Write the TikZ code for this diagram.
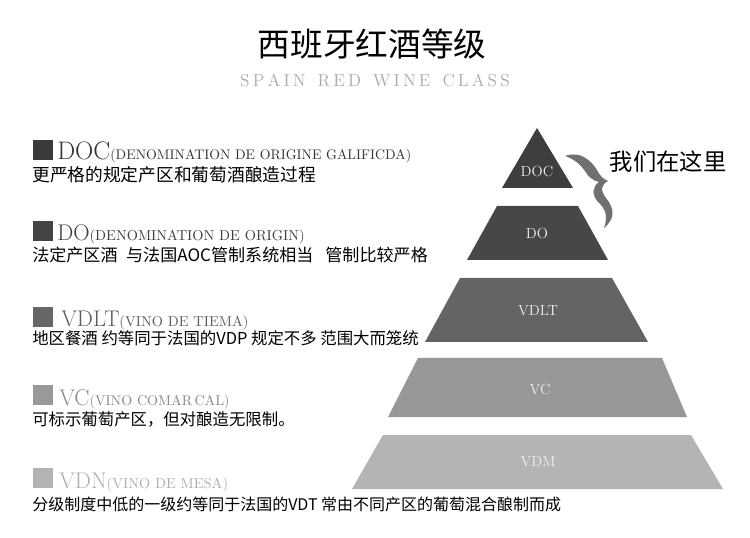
\documentclass[tikz,border=0pt]{standalone}
\usepackage{fontspec}
\newfontfamily\cjk{Noto Sans CJK SC}
\definecolor{sqa}{HTML}{3A3A3A}
\definecolor{sqb}{HTML}{444444}
\definecolor{sqc}{HTML}{666666}
\definecolor{sqd}{HTML}{999999}
\definecolor{sqe}{HTML}{B3B3B3}
\definecolor{hda}{HTML}{333333}
\definecolor{hdb}{HTML}{3F3F3F}
\definecolor{hdc}{HTML}{5C5C5C}
\definecolor{hdd}{HTML}{888888}
\definecolor{hde}{HTML}{AEAEAE}
\definecolor{pya}{HTML}{3E3E3E}
\definecolor{pyb}{HTML}{474747}
\definecolor{pyc}{HTML}{646464}
\definecolor{pyd}{HTML}{979797}
\definecolor{pye}{HTML}{B4B4B4}
\definecolor{subgray}{HTML}{A8A8A8}
\definecolor{bracegray}{HTML}{707070}
\newcommand\lk{\kern2.4pt}
\tikzset{
  sqbox/.style={rectangle, minimum size=15pt, inner sep=0pt, draw=none},
  heading/.style={anchor=base west, inner sep=0pt},
  cnline/.style={anchor=west, inner sep=0pt, font=\cjk\fontsize{12.3}{12.3}\selectfont, text=black},
  plabel/.style={inner sep=0pt, text=white!94!black, font=\fontsize{11}{11}\selectfont}
}
\begin{document}
\begin{tikzpicture}[x=0.75pt,y=-0.75pt]
\useasboundingbox (0,0) rectangle (750,538);
\fill[white] (0,0) rectangle (750,538);

% title
\node[inner sep=0pt] (title) at (372,44) {\cjk\fontsize{24.5}{24.5}\selectfont 西班牙红酒等级};
\node[inner sep=0pt, text=subgray] (subtitle) at (375,80) {\fontsize{13}{13}\selectfont S\lk P\lk A\lk I\lk N\lk\ \lk R\lk E\lk D\lk\ \lk W\lk I\lk N\lk E\lk\ \lk C\lk L\lk A\lk S\lk S};

% pyramid
\fill[pya] (537,128) -- (573,188) -- (502,188) -- cycle;
\fill[pyb] (497,206) -- (578,206) -- (608,260) -- (467,260) -- cycle;
\fill[pyc] (460,278) -- (612,278) -- (648,342) -- (425,342) -- cycle;
\fill[pyd] (418,358) -- (662,358) -- (687,417) -- (388,417) -- cycle;
\fill[pye] (383,435) -- (691,435) -- (723,489) -- (352,489) -- cycle;

\node[plabel] (pdoc) at (537,171) {DOC};
\node[plabel] (pdo) at (537,233) {DO};
\node[plabel] (pvdlt) at (538,311) {VDLT};
\node[plabel] (pvc) at (540,389) {VC};
\node[plabel] (pvdm) at (538,462) {VDM};

% brace
\fill[bracegray] (565,156) .. controls (581,150) and (592,162) .. (597,170)
  .. controls (600,176) and (603,179) .. (608,181)
  .. controls (601,185) and (600,190) .. (606,198)
  .. controls (615,209) and (615,219) .. (604,228)
  .. controls (608,217) and (606,209) .. (598,202)
  .. controls (591,194) and (593,186) .. (599,182)
  .. controls (591,180) and (588,176) .. (585,171)
  .. controls (580,164) and (574,159) .. (565,156) -- cycle;
\node[inner sep=0pt] (here) at (668,162) {\cjk\fontsize{17.5}{17.5}\selectfont 我们在这里};

% row 1
\node[sqbox, fill=sqa] (s1) at (43,150) {};
\node[heading, text=hda] (h1) at (57,160) {\fontsize{19}{19}\selectfont DOC\fontsize{10.4}{10.4}\selectfont(DENOMINATION DE ORIGINE GALIFICDA)};
\node[cnline, font=\cjk\fontsize{13.3}{13.3}\selectfont] (c1) at (32,175) {更严格的规定产区和葡萄酒酿造过程};

% row 2
\node[sqbox, fill=sqb] (s2) at (43,231) {};
\node[heading, text=hdb] (h2) at (57,241) {\fontsize{17}{17}\selectfont DO\fontsize{10.8}{10.8}\selectfont(DENOMINATION DE ORIGIN)};
\node[cnline, font=\cjk\fontsize{12.8}{12.8}\selectfont] (c2) at (32,255) {法定产区酒\hspace{0.5em}与法国AOC管制系统相当\hspace{0.7em}管制比较严格};

% row 3
\node[sqbox, fill=sqc] (s3) at (43,317) {};
\node[heading, text=hdc] (h3) at (61,327) {\fontsize{17}{17}\selectfont VDLT\fontsize{10.8}{10.8}\selectfont(VINO DE TIEMA)};
\node[cnline] (c3) at (32,338) {地区餐酒 约等同于法国的VDP 规定不多 范围大而笼统};

% row 4
\node[sqbox, fill=sqd] (s4) at (43,395) {};
\node[heading, text=hdd] (h4) at (59,405) {\fontsize{17}{17}\selectfont VC\fontsize{10.6}{10.6}\selectfont(VINO COMAR\,CAL)};
\node[cnline] (c4) at (32,419) {可标示葡萄产区，但对酿造无限制。};

% row 5
\node[sqbox, fill=sqe] (s5) at (43,478) {};
\node[heading, text=hde] (h5) at (59,488) {\fontsize{17}{17}\selectfont VDN\fontsize{10.8}{10.8}\selectfont(VINO DE MESA)};
\node[cnline, font=\cjk\fontsize{12}{12}\selectfont] (c5) at (32,504) {分级制度中低的一级约等同于法国的VDT 常由不同产区的葡萄混合酿制而成};
\end{tikzpicture}
\end{document}
